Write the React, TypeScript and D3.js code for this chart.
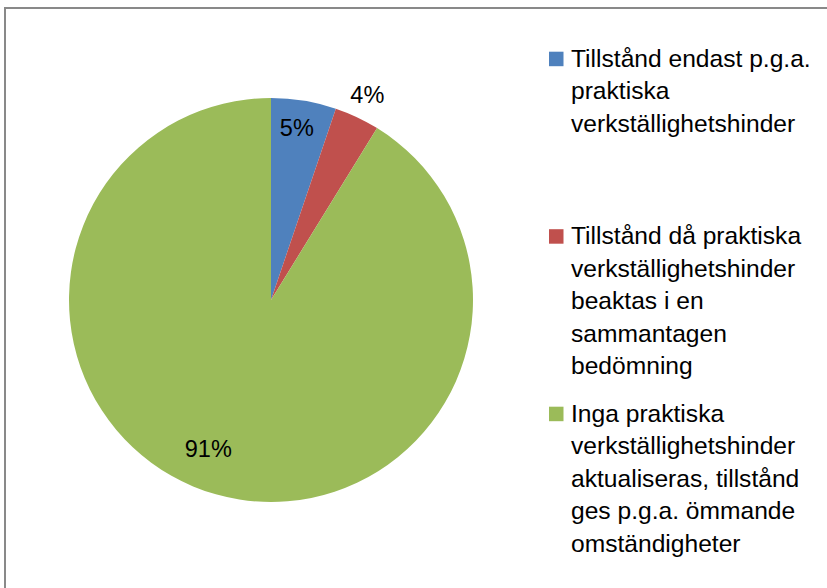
import React from "react";
import * as d3 from "d3";

const categories = [
  "Tillstånd endast p.g.a. praktiska verkställighetshinder",
  "Tillstånd då praktiska verkställighetshinder beaktas i en sammantagen bedömning",
  "Inga praktiska verkställighetshinder aktualiseras, tillstånd ges p.g.a. ömmande omständigheter",
];
const values = [5.2, 3.6, 91.2];
const dataLabels = ["5%", "4%", "91%"];
const legendLines = [
  ["Tillstånd endast p.g.a.", "praktiska", "verkställighetshinder"],
  ["Tillstånd då praktiska", "verkställighetshinder", "beaktas i en", "sammantagen", "bedömning"],
  ["Inga praktiska", "verkställighetshinder", "aktualiseras, tillstånd", "ges p.g.a. ömmande", "omständigheter"],
];
const colors = ["#4F81BD", "#C0504D", "#9BBB59"];
// label placement (radius factor, angle shift in degrees)
const labelRadius = [0.86, 1.12, 0.8];
const labelShift = [-0.8, 0, 7];

const W = 827;
const H = 588;
const cx = 271;
const cy = 300;
const R = 202;
const FONT = "'Liberation Sans', Arial, sans-serif";

export default function App() {
  const pie = d3.pie<number>().sort(null).value((d) => d)(values);
  const arc = d3.arc<d3.PieArcDatum<number>>().innerRadius(0).outerRadius(R);

  return (
    <svg
      width={W}
      height={H}
      style={{ position: "absolute", left: 0, top: 0, background: "#fff" }}
    >
      <rect x={0} y={0} width={W} height={H} fill="#fff" />
      <rect x={5} y={8} width={W + 10} height={H + 10} fill="none" stroke="#898989" strokeWidth={2} />
      <g transform={`translate(${cx},${cy})`}>
        {pie.map((p, i) => (
          <path key={i} d={arc(p) || ""} fill={colors[i]} />
        ))}
        {pie.map((p, i) => {
          const a = (p.startAngle + p.endAngle) / 2 + (labelShift[i] * Math.PI) / 180;
          const r = R * labelRadius[i];
          const x = Math.sin(a) * r;
          const y = -Math.cos(a) * r;
          return (
            <text
              key={"l" + i}
              x={x}
              y={y}
              textAnchor="middle"
              dominantBaseline="central"
              fontFamily={FONT}
              fontSize={23.5}
              fill="#000"
            >
              {dataLabels[i]}
            </text>
          );
        })}
      </g>
      <g>
        {legendLines.map((lines, i) => {
          const base = 66.7 + i * 177.5;
          return (
            <g key={"lg" + i}>
              <title>{categories[i]}</title>
              <rect x={549} y={base - 15} width={14.5} height={14.5} fill={colors[i]} />
              {lines.map((t, j) => (
                <text
                  key={j}
                  x={571}
                  y={base + j * 32.5}
                  fontFamily={FONT}
                  fontSize={24.6}
                  fill="#000"
                >
                  {t}
                </text>
              ))}
            </g>
          );
        })}
      </g>
    </svg>
  );
}
